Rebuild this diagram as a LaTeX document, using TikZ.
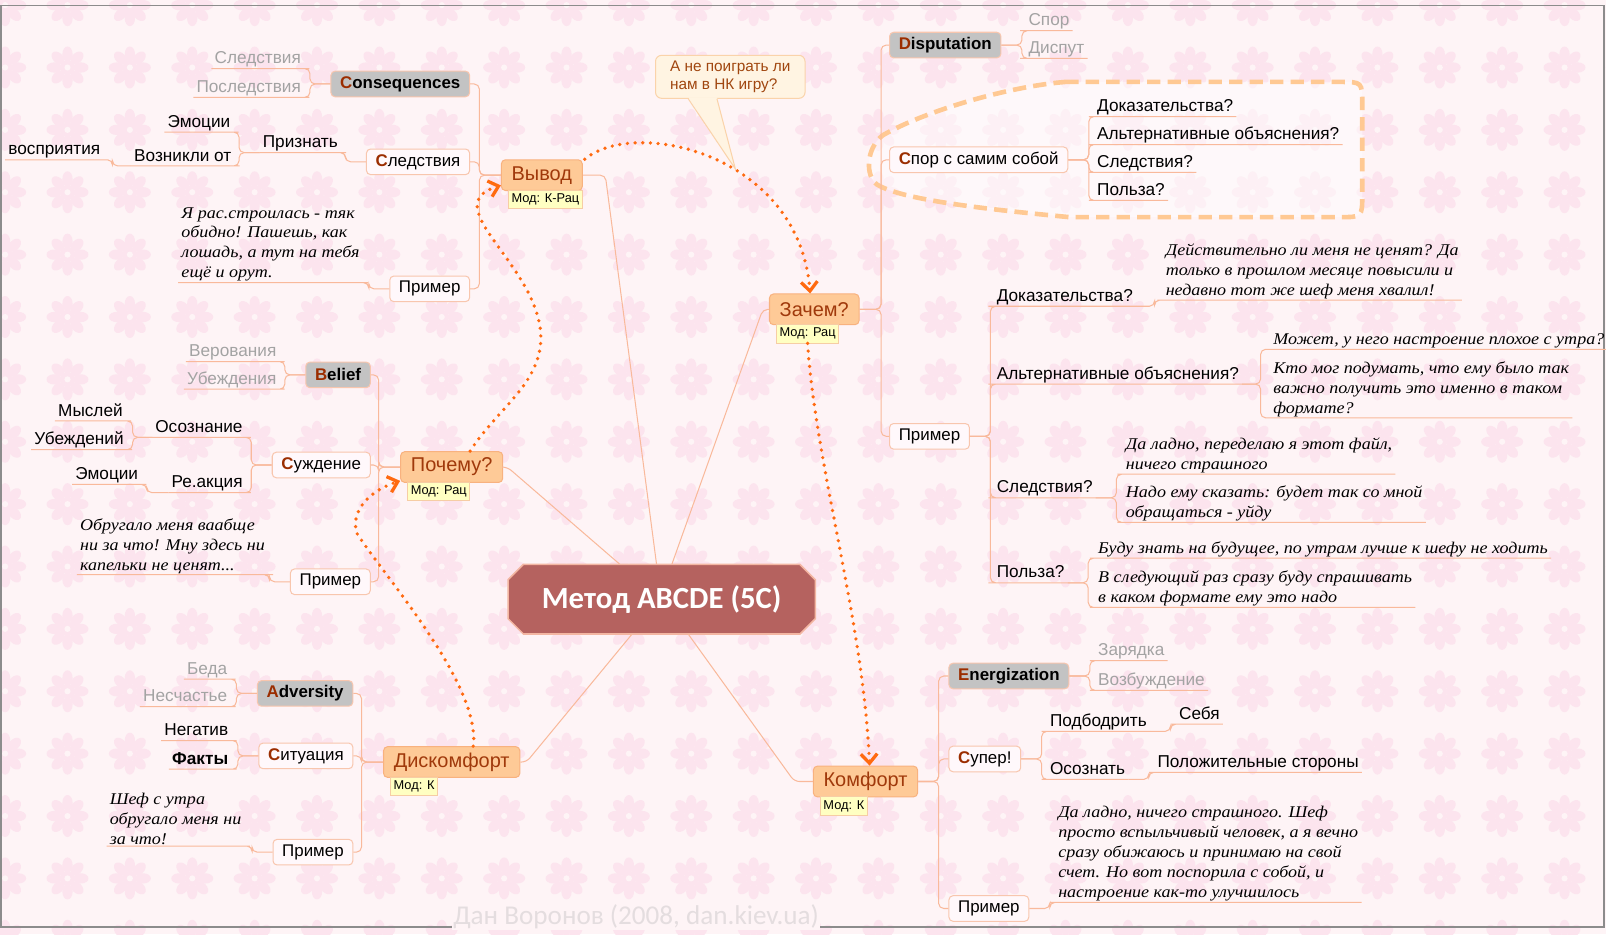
\documentclass[tikz,border=0pt]{standalone}
\usepackage{fontspec}
\setmainfont{Liberation Sans}
\newfontfamily\notefont{Liberation Serif}[UprightFont={* Italic},FakeStretch=1.1]
\newfontfamily\titlefont{Carlito}
\usetikzlibrary{arrows.meta,positioning}

\definecolor{bgpink}{HTML}{FEF4F6}
\definecolor{flowerc}{HTML}{FCE4EE}
\definecolor{framec}{HTML}{8C8C8C}
\definecolor{linkc}{HTML}{F9B99B}
\definecolor{boxline}{HTML}{F8C6AE}
\definecolor{topicfill}{HTML}{FFF8FB}
\definecolor{keyfill}{HTML}{C3C3C3}
\definecolor{capc}{HTML}{9B2D00}
\definecolor{hintc}{HTML}{A3A3A3}
\definecolor{branchfill}{HTML}{FECA97}
\definecolor{branchline}{HTML}{F8B27F}
\definecolor{branchtext}{HTML}{A0390B}
\definecolor{modfill}{HTML}{FFFFC2}
\definecolor{modline}{HTML}{F6CDA5}
\definecolor{titlefill}{HTML}{B5625F}
\definecolor{titleline}{HTML}{F3B6A2}
\definecolor{hopc}{HTML}{FF6A10}
\definecolor{dashc}{HTML}{FFC993}
\definecolor{callfill}{HTML}{FFF4E2}
\definecolor{callline}{HTML}{FAD3AA}
\definecolor{calltext}{HTML}{A0460F}
\definecolor{wmc}{HTML}{E4DDDF}

\newcommand\firstletter[1]{{\bfseries\color{capc}#1}}

\begin{document}
\begin{tikzpicture}[x=1pt,y=-1pt,
  link/.style={draw=linkc,line width=1pt,rounded corners=5pt},
  branch/.style={draw=branchline,fill=branchfill,rounded corners=4pt,text=branchtext,font=\fontsize{19.5}{22}\selectfont,minimum height=30pt,inner xsep=10pt,line width=1pt},
  mod/.style={draw=modline,fill=modfill,font=\fontsize{12.5}{14}\selectfont,inner xsep=3pt,inner ysep=0pt,minimum height=18pt,anchor=north west,line width=0.8pt},
  topic/.style={draw=boxline,fill=topicfill,rounded corners=4pt,font=\fontsize{16.5}{18}\selectfont,minimum height=25pt,inner xsep=9pt,line width=1pt},
  keybox/.style={topic,fill=keyfill,font=\fontsize{16.5}{18}\selectfont\bfseries},
  leaf/.style={font=\fontsize{16.8}{18}\selectfont,inner xsep=3pt,inner ysep=1pt,text height=12pt,text depth=3.5pt},
  hint/.style={leaf,text=hintc},
  note/.style={font=\notefont\fontsize{16}{19.5}\selectfont,align=left,inner xsep=3pt,inner ysep=1pt},
  hop/.style={draw=hopc,line width=3.6pt,line cap=round,dash pattern=on 0pt off 7.5pt,-{Straight Barb[length=9pt,width=16pt,line width=3.2pt]}},
]
\useasboundingbox (0,0) rectangle (1568,912);
\fill[bgpink] (0,0) rectangle (1568,912);

% background flowers
\begin{scope}
  \clip (0,0) rectangle (1568,912);
  \foreach \i in {0,...,26}
    \foreach \j in {0,...,15} {
      \begin{scope}[shift={(5+60.9*\i,5+60.9*\j)}]
        \fill[flowerc] (0,0) circle (7);
        \foreach \a in {0,45,...,315}
          \fill[flowerc,rotate=\a] (13,0) ellipse (7.5 and 5);
        \fill[bgpink] (0,0) circle (3);
      \end{scope}
    }
\end{scope}
\draw[framec,line width=1.2pt] (1,5) rectangle (1566,905);

% self-dispute area
\draw[draw=dashc,line width=4.5pt,dash pattern=on 13pt off 7pt,fill=white,fill opacity=0.45]
  (1040,80) -- (1308,80) .. controls (1330,80) .. (1330,102) -- (1330,190)
  .. controls (1330,212) .. (1308,212) -- (1044,212)
  .. controls (960,204) and (880,195) .. (856,180)
  .. controls (845,172) and (845,145) .. (862,132)
  .. controls (900,110) and (980,85) .. cycle;

% centre
\draw[fill=titlefill,draw=titleline,line width=1.5pt,shift={(646,585)}]
  (-135,-34) -- (135,-34) -- (150,-19) -- (150,19) -- (135,34) -- (-135,34) -- (-150,19) -- (-150,-19) -- cycle;
\node[minimum width=300pt,minimum height=68pt,text=white,font=\titlefont\fontsize{30}{32}\selectfont\bfseries] (Center) at (646,585) {Метод ABCDE (5C)};

% main branches
\node[branch] (Vyvod) at (529,171) {Вывод};
\node[branch] (Pochemu) at (441,456) {Почему?};
\node[branch] (Diskomfort) at (441,744) {Дискомфорт};
\node[branch] (Zachem) at (795,302) {Зачем?};
\node[branch] (Komfort) at (845,763) {Комфорт};
\foreach \b/\m in {Vyvod/К-Рац,Pochemu/Рац,Diskomfort/К,Zachem/Рац,Komfort/К}
  \node[mod] (\b-mod) at ([xshift=7pt,yshift=1pt]\b.south west) {Мод: \m};

\draw[link] (Vyvod.east) -- ++(22,0) -- ([xshift=-5pt]Center.north);
\draw[link] (Zachem.west) -- ++(-6,0) -- ([xshift=10pt]Center.north);
\draw[link] (Pochemu.east) -- ++(4,0) -- ([xshift=-41pt]Center.north);
\draw[link] (Diskomfort.east) -- ++(6,0) -- ([xshift=-29pt]Center.south);
\draw[link] (Komfort.west) -- ++(-18,0) -- ([xshift=26pt]Center.south);

% Вывод
\node[keybox,anchor=east] (Cons) at (459,82) {\firstletter{C}onsequences};
\node[topic,anchor=east] (SlBox) at (459,158) {\firstletter{С}ледствия};
\node[topic,anchor=east] (PrimerA) at (459,282) {Пример};
\foreach \c in {Cons,SlBox,PrimerA}
  \draw[link] (Vyvod.west) -- ++(-21,0) |- (\c.east);
\node[hint,anchor=south east] (ConsA) at (297,67) {Следствия};
\node[hint,anchor=south east] (ConsB) at (297,95) {Последствия};
\foreach \c in {ConsA,ConsB}
  \draw[link] (Cons.west) -- ++(-20,0) |- (\c.south east) -- (\c.south west);
\node[leaf,anchor=south east] (Priznat) at (333,149) {Признать};
\draw[link] (SlBox.west) -- ++(-20,0) |- (Priznat.south east) -- (Priznat.south west);
\node[leaf,anchor=south east] (EmoA) at (228,129) {Эмоции};
\node[leaf,anchor=south east] (Vozn) at (229,162) {Возникли от};
\foreach \c in {EmoA,Vozn}
  \draw[link] (Priznat.south west) -- ++(-20,0) |- (\c.south east) -- (\c.south west);
\node[leaf,anchor=south east] (Vospr) at (101,156) {восприятия};
\draw[link] (Vozn.south west) -- ++(-18,0) |- (Vospr.south east) -- (Vospr.south west);
\node[note,anchor=south west] (ExA) at (174,276) {Я рас.строилась - тяк\\обидно! Пашешь, как\\лошадь, а тут на тебя\\ещё и орут.};
\draw[link] (PrimerA.west) -- ++(-20,0) |- (ExA.south east) -- (ExA.south west);

% Почему?
\node[keybox,anchor=east] (Belief) at (362,366) {\firstletter{B}elief};
\node[topic,anchor=east] (Sujd) at (362,454) {\firstletter{С}уждение};
\node[topic,anchor=east] (PrimerB) at (362,568) {Пример};
\foreach \c in {Belief,Sujd,PrimerB}
  \draw[link] (Pochemu.west) -- ++(-21,0) |- (\c.east);
\node[hint,anchor=south east] (BelA) at (273,353) {Верования};
\node[hint,anchor=south east] (BelB) at (273,380) {Убеждения};
\foreach \c in {BelA,BelB}
  \draw[link] (Belief.west) -- ++(-20,0) |- (\c.south east) -- (\c.south west);
\node[leaf,anchor=south east] (Osozn) at (240,427) {Осознание};
\node[leaf,anchor=south east] (Reak) at (240,481) {Ре.акция};
\foreach \c in {Osozn,Reak}
  \draw[link] (Sujd.west) -- ++(-20,0) |- (\c.south east) -- (\c.south west);
\node[leaf,anchor=south east] (Mysl) at (123,411) {Мыслей};
\node[leaf,anchor=south east] (Ubezh) at (124,439) {Убеждений};
\foreach \c in {Mysl,Ubezh}
  \draw[link] (Osozn.south west) -- ++(-19,0) |- (\c.south east) -- (\c.south west);
\node[leaf,anchor=south east] (EmoB) at (138,473) {Эмоции};
\draw[link] (Reak.south west) -- ++(-21,0) |- (EmoB.south east) -- (EmoB.south west);
\node[note,anchor=south west] (ExB) at (75,561) {Обругало меня ваабще\\ни за что! Мну здесь ни\\капельки не ценят...};
\draw[link] (PrimerB.west) -- ++(-20,0) |- (ExB.south east) -- (ExB.south west);

% Дискомфорт
\node[keybox,anchor=east] (Advers) at (345,677) {\firstletter{A}dversity};
\node[topic,anchor=east] (Situac) at (345,738) {\firstletter{С}итуация};
\node[topic,anchor=east] (PrimerC) at (345,832) {Пример};
\foreach \c in {Advers,Situac,PrimerC}
  \draw[link] (Diskomfort.west) -- ++(-21,0) |- (\c.east);
\node[hint,anchor=south east] (AdvA) at (225,663) {Беда};
\node[hint,anchor=south east] (AdvB) at (225,690) {Несчастье};
\foreach \c in {AdvA,AdvB}
  \draw[link] (Advers.west) -- ++(-20,0) |- (\c.south east) -- (\c.south west);
\node[leaf,anchor=south east] (SitA) at (226,723) {Негатив};
\node[leaf,anchor=south east,font=\fontsize{16.8}{18}\selectfont\bfseries] (SitB) at (226,751) {Факты};
\foreach \c in {SitA,SitB}
  \draw[link] (Situac.west) -- ++(-20,0) |- (\c.south east) -- (\c.south west);
\node[note,anchor=south west] (ExC) at (104,826) {Шеф с утра\\обругало меня ни\\за что!};
\draw[link] (PrimerC.west) -- ++(-20,0) |- (ExC.south east) -- (ExC.south west);

% Зачем?
\node[keybox,anchor=west] (Disp) at (868,44) {\firstletter{D}isputation};
\node[topic,anchor=west] (Spor) at (868,156) {\firstletter{С}пор с самим собой};
\node[topic,anchor=west] (PrimerR) at (868,426) {Пример};
\foreach \c in {Disp,Spor,PrimerR}
  \draw[link] (Zachem.east) -- ++(21,0) |- (\c.west);
\node[hint,anchor=south west] (DispA) at (1001,30) {Спор};
\node[hint,anchor=south west] (DispB) at (1001,57) {Диспут};
\foreach \c in {DispA,DispB}
  \draw[link] (Disp.east) -- ++(20,0) |- (\c.south west) -- (\c.south east);
\foreach \t [count=\n] in {Доказательства?,Альтернативные объяснения?,Следствия?,Польза?} {
  \node[leaf,anchor=south west] (SporQ\n) at (1068,86.5+27.3*\n) {\t};
  \draw[link] (Spor.east) -- ++(20,0) |- (SporQ\n.south west) -- (SporQ\n.south east);
}
\node[leaf,anchor=south west] (Dok) at (970,299) {Доказательства?};
\node[leaf,anchor=south west] (Alt) at (970,375) {Альтернативные объяснения?};
\node[leaf,anchor=south west] (Sled) at (970,486) {Следствия?};
\node[leaf,anchor=south west] (Polza) at (970,569) {Польза?};
\foreach \c in {Dok,Alt,Sled,Polza}
  \draw[link] (PrimerR.east) -- ++(20,0) |- (\c.south west) -- (\c.south east);
\node[note,anchor=south west] (DokA) at (1135,293) {Действительно ли меня не ценят? Да\\только в прошлом месяце повысили и\\недавно тот же шеф меня хвалил!};
\draw[link] (Dok.south east) -- ++(18,0) |- (DokA.south west) -- (DokA.south east);
\node[note,anchor=south west] (AltA) at (1240,341) {Может, у него настроение плохое с утра?};
\node[note,anchor=south west] (AltB) at (1240,408) {Кто мог подумать, что ему было так\\важно получить это именно в таком\\формате?};
\foreach \c in {AltA,AltB}
  \draw[link] (Alt.south east) -- ++(18,0) |- (\c.south west) -- (\c.south east);
\node[note,anchor=south west] (SledA) at (1096,463) {Да ладно, переделаю я этот файл,\\ничего страшного};
\node[note,anchor=south west] (SledB) at (1096,510) {Надо ему сказать: будет так со мной\\обращаться - уйду};
\foreach \c in {SledA,SledB}
  \draw[link] (Sled.south east) -- ++(20,0) |- (\c.south west) -- (\c.south east);
\node[note,anchor=south west] (PolA) at (1069,545) {Буду знать на будущее, по утрам лучше к шефу не ходить};
\node[note,anchor=south west] (PolB) at (1069,593) {В следующий раз сразу буду спрашивать\\в каком формате ему это надо};
\foreach \c in {PolA,PolB}
  \draw[link] (Polza.south east) -- ++(20,0) |- (\c.south west) -- (\c.south east);

% Комфорт
\node[keybox,anchor=west] (Energ) at (926,660) {\firstletter{E}nergization};
\node[topic,anchor=west] (Super) at (926,741) {\firstletter{С}упер!};
\node[topic,anchor=west] (PrimerK) at (926,887) {Пример};
\foreach \c in {Energ,Super,PrimerK}
  \draw[link] (Komfort.east) -- ++(20,0) |- (\c.west);
\node[hint,anchor=south west] (EnA) at (1069,645) {Зарядка};
\node[hint,anchor=south west] (EnB) at (1069,674) {Возбуждение};
\foreach \c in {EnA,EnB}
  \draw[link] (Energ.east) -- ++(20,0) |- (\c.south west) -- (\c.south east);
\node[leaf,anchor=south west] (Podb) at (1022,714) {Подбодрить};
\node[leaf,anchor=south west] (Osoz) at (1022,761) {Осознать};
\foreach \c in {Podb,Osoz}
  \draw[link] (Super.east) -- ++(20,0) |- (\c.south west) -- (\c.south east);
\node[leaf,anchor=south west] (Sebya) at (1148,707) {Себя};
\node[leaf,anchor=south west] (Polozh) at (1127,754) {Положительные стороны};
\draw[link] (Podb.south east) -- ++(20,0) |- (Sebya.south west) -- (Sebya.south east);
\draw[link] (Osoz.south east) -- ++(20,0) |- (Polozh.south west) -- (Polozh.south east);
\node[note,anchor=south west] (ExK) at (1030,881) {Да ладно, ничего страшного. Шеф\\просто вспыльчивый человек, а я вечно\\сразу обижаюсь и принимаю на свой\\счет. Но вот поспорила с собой, и\\настроение как-то улучшилось};
\draw[link] (PrimerK.east) -- ++(20,0) |- (ExK.south west) -- (ExK.south east);

% callout
\node[draw=callline,fill=callfill,rounded corners=6pt,text=calltext,align=left,font=\fontsize{15}{17}\selectfont,minimum width=146pt,minimum height=42pt,line width=1pt] (Hint) at (713,75) {А не поиграть ли\\нам в НК игру?};
\coordinate (HintTip) at (718,165);
\fill[callfill] ([xshift=-41pt,yshift=1.5pt]Hint.south) -- (HintTip) -- ([xshift=-13pt,yshift=1.5pt]Hint.south) -- cycle;
\draw[callline,line width=1pt] ([xshift=-41pt]Hint.south) -- (HintTip) -- ([xshift=-13pt]Hint.south);

% relations
\coordinate (bend1) at (528,330);
\coordinate (bend2) at (348,520);
\draw[hop] ([xshift=18pt]Pochemu.north) .. controls +(25,-40) and +(0,45) .. (bend1) .. controls +(0,-70) and +(-65,20) .. ([yshift=-10pt]Vyvod.west);
\draw[hop] ([xshift=21pt]Diskomfort.north) .. controls +(8,-60) and +(25,40) .. (bend2) .. controls +(-6,-25) and +(-25,8) .. ([yshift=2pt]Pochemu.south west);
\draw[hop] ([xshift=2pt]Vyvod.north east) .. controls +(48,-41) and +(-11,-137) .. ([xshift=-4pt]Zachem.north);
\draw[hop] (Zachem-mod.south) .. controls +(8,120) and +(-6,-140) .. ([xshift=4pt]Komfort.north);

\node[text=wmc,font=\titlefont\fontsize{26.5}{28}\selectfont,fill=bgpink,inner sep=1pt] (Credit) at (621,895) {Дан Воронов (2008, dan.kiev.ua)};
\end{tikzpicture}
\end{document}
